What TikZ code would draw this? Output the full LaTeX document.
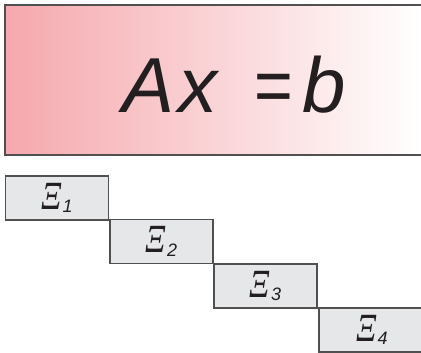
\documentclass[tikz,border=0pt]{standalone}
\usepackage{graphicx}
\usepackage{fontspec}
\setmainfont{Liberation Sans}
\newfontfamily\xifont{Liberation Serif}
\definecolor{pinkL}{RGB}{245,168,173}
\definecolor{boxfill}{RGB}{230,231,232}
\definecolor{edgegray}{RGB}{80,80,80}
\definecolor{txt}{RGB}{35,31,32}
\newcommand{\XiSub}[1]{\scalebox{0.8}[1]{\fontsize{40}{42}\selectfont\xifont\itshape Ξ}\kern1pt\raisebox{-3.5pt}{\fontsize{18}{18}\selectfont\itshape #1}}
\tikzset{
  xibox/.style={fill=boxfill,draw=edgegray,line width=1.2pt,minimum width=103pt,minimum height=44pt,inner sep=0pt,text=txt},
  xilabel/.style={inner sep=0pt,text=txt},
}
\begin{document}
\begin{tikzpicture}[x=1pt,y=1pt]
\useasboundingbox (0,0) rectangle (421,-353);
% top gradient panel
\shade[left color=pinkL,right color=white] (5,-5) rectangle (421,-155);
\draw[edgegray,line width=1.5pt] (421,-5) -- (5,-5) -- (5,-155) -- (421,-155);
\node[anchor=base west,inner sep=0pt,text=txt,font=\fontsize{78}{78}\selectfont] (eq) at (122,-113) {\textit{A}\kern4pt\textit{x}\kern35pt\scalebox{0.85}[1]{=}\kern9pt\textit{b}};
% diagonal blocks
\node[xibox] (b1) at (57,-198) {\XiSub{1}};
\node[xibox] (b2) at (161.5,-241.5) {\XiSub{2}};
\node[xibox] (b3) at (265.5,-286) {\XiSub{3}};
\fill[boxfill] (319,-308) rectangle (421,-352);
\draw[edgegray,line width=1.2pt] (421,-308) -- (319,-308) -- (319,-352) -- (421,-352);
\node[xilabel] (b4) at (372,-330) {\XiSub{4}};
\end{tikzpicture}
\end{document}
